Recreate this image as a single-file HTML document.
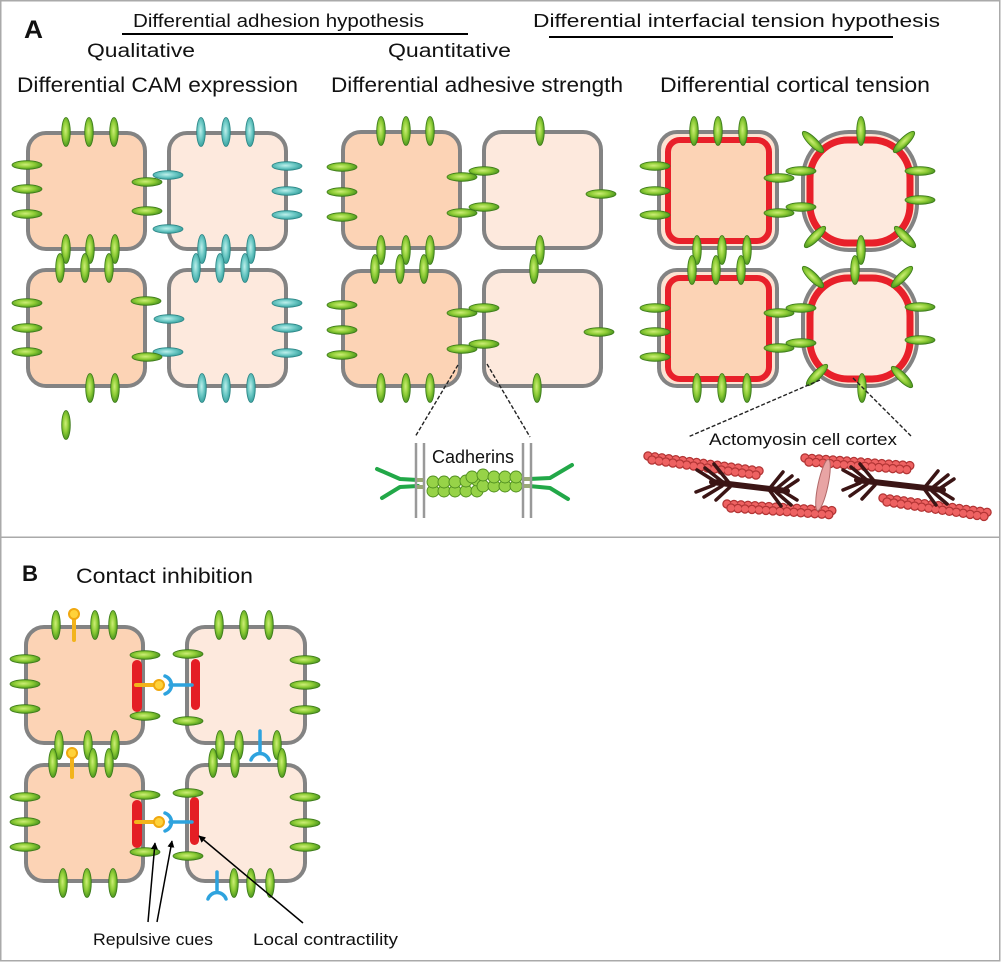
<!DOCTYPE html>
<html><head><meta charset="utf-8"><style>
html,body{margin:0;padding:0;background:#fff;width:1004px;height:963px;overflow:hidden}
svg{display:block}
text{font-family:"Liberation Sans",Arial,sans-serif;fill:#111}
</style></head><body>
<svg width="1004" height="963" viewBox="0 0 1004 963" xmlns="http://www.w3.org/2000/svg">
<defs>
<radialGradient id="gg" cx="0.45" cy="0.45" r="0.6"><stop offset="0" stop-color="#cdee78"/><stop offset="0.5" stop-color="#8fcd36"/><stop offset="1" stop-color="#3f8c1a"/></radialGradient>
<radialGradient id="tg" cx="0.45" cy="0.45" r="0.6"><stop offset="0" stop-color="#bff0ec"/><stop offset="0.5" stop-color="#6ecac6"/><stop offset="1" stop-color="#2f9a98"/></radialGradient>
<ellipse id="gv" cx="0" cy="0" rx="4.3" ry="14.5" fill="url(#gg)" stroke="#3d7a1a" stroke-width="0.8"/>
<ellipse id="gh" cx="0" cy="0" rx="15" ry="4.3" fill="url(#gg)" stroke="#3d7a1a" stroke-width="0.8"/>
<ellipse id="tv" cx="0" cy="0" rx="4.3" ry="14.5" fill="url(#tg)" stroke="#2c8585" stroke-width="0.8"/>
<ellipse id="th" cx="0" cy="0" rx="15" ry="4.3" fill="url(#tg)" stroke="#2c8585" stroke-width="0.8"/>
<marker id="ah" viewBox="0 0 10 10" refX="9" refY="5" markerWidth="7" markerHeight="7" orient="auto" markerUnits="userSpaceOnUse"><path d="M0,0 L10,5 L0,10 z" fill="#000"/></marker>
</defs>

<!-- frames -->
<rect x="0.75" y="0.75" width="999" height="536.5" fill="none" stroke="#aaa" stroke-width="1.5"/>
<rect x="0.75" y="537.25" width="999" height="423.5" fill="none" stroke="#aaa" stroke-width="1.5"/>

<!-- headings -->
<text x="24" y="38" font-size="25" font-weight="bold" textLength="19" lengthAdjust="spacingAndGlyphs">A</text>
<text x="133" y="27" font-size="18" textLength="291" lengthAdjust="spacingAndGlyphs">Differential adhesion hypothesis</text>
<line x1="122" y1="34" x2="468" y2="34" stroke="#000" stroke-width="2"/>
<text x="533" y="27" font-size="18" textLength="407" lengthAdjust="spacingAndGlyphs">Differential interfacial tension hypothesis</text>
<line x1="549" y1="37" x2="893" y2="37" stroke="#000" stroke-width="2"/>
<text x="87" y="57" font-size="19" textLength="108" lengthAdjust="spacingAndGlyphs">Qualitative</text>
<text x="388" y="57" font-size="19" textLength="123" lengthAdjust="spacingAndGlyphs">Quantitative</text>
<text x="17" y="92" font-size="21" textLength="281" lengthAdjust="spacingAndGlyphs">Differential CAM expression</text>
<text x="331" y="92" font-size="21" textLength="292" lengthAdjust="spacingAndGlyphs">Differential adhesive strength</text>
<text x="660" y="92" font-size="21" textLength="270" lengthAdjust="spacingAndGlyphs">Differential cortical tension</text>

<!-- Panel A1 cells -->
<g stroke="#838383" stroke-width="4">
<rect x="28" y="133" width="117" height="116" rx="18" fill="#fcd3b5"/>
<rect x="169" y="133" width="117" height="116" rx="18" fill="#fde9dd"/>
<rect x="28" y="270" width="117" height="116" rx="18" fill="#fcd3b5"/>
<rect x="169" y="270" width="117" height="116" rx="18" fill="#fde9dd"/>
</g>
<use href="#gv" x="66" y="132"/><use href="#gv" x="89" y="132"/><use href="#gv" x="114" y="132"/>
<use href="#gh" x="27" y="165"/><use href="#gh" x="27" y="189"/><use href="#gh" x="27" y="214"/>
<use href="#th" x="168" y="175"/><use href="#th" x="168" y="229"/>
<use href="#gh" x="147" y="182"/><use href="#gh" x="147" y="211"/>
<use href="#tv" x="201" y="132"/><use href="#tv" x="226" y="132"/><use href="#tv" x="250" y="132"/>
<use href="#th" x="287" y="166"/><use href="#th" x="287" y="191"/><use href="#th" x="287" y="215"/>
<use href="#gv" x="66" y="249"/><use href="#gv" x="90" y="249"/><use href="#gv" x="115" y="249"/>
<use href="#tv" x="202" y="249"/><use href="#tv" x="226" y="249"/><use href="#tv" x="251" y="249"/>
<use href="#gv" x="60" y="268"/><use href="#gv" x="85" y="268"/><use href="#gv" x="109" y="268"/>
<use href="#tv" x="196" y="268"/><use href="#tv" x="220" y="268"/><use href="#tv" x="245" y="268"/>
<use href="#gh" x="27" y="303"/><use href="#gh" x="27" y="328"/><use href="#gh" x="27" y="352"/>
<use href="#th" x="169" y="319"/><use href="#th" x="168" y="352"/>
<use href="#gh" x="146" y="301"/><use href="#gh" x="147" y="357"/>
<use href="#th" x="287" y="303"/><use href="#th" x="287" y="328"/><use href="#th" x="287" y="353"/>
<use href="#gv" x="90" y="388"/><use href="#gv" x="115" y="388"/>
<use href="#tv" x="202" y="388"/><use href="#tv" x="226" y="388"/><use href="#tv" x="251" y="388"/>
<use href="#gv" x="66" y="425"/>

<!-- Panel A2 cells -->
<g stroke="#838383" stroke-width="4">
<rect x="343" y="132" width="117" height="116" rx="18" fill="#fcd3b5"/>
<rect x="484" y="132" width="117" height="116" rx="18" fill="#fde9dd"/>
<rect x="343" y="271" width="117" height="115" rx="18" fill="#fcd3b5"/>
<rect x="484" y="271" width="117" height="115" rx="18" fill="#fde9dd"/>
</g>
<use href="#gv" x="381" y="131"/><use href="#gv" x="406" y="131"/><use href="#gv" x="430" y="131"/>
<use href="#gh" x="342" y="167"/><use href="#gh" x="342" y="192"/><use href="#gh" x="342" y="217"/>
<use href="#gh" x="462" y="177"/><use href="#gh" x="462" y="213"/>
<use href="#gh" x="484" y="171"/><use href="#gh" x="484" y="207"/>
<use href="#gv" x="540" y="131"/>
<use href="#gh" x="601" y="194"/>
<use href="#gv" x="381" y="250"/><use href="#gv" x="406" y="250"/><use href="#gv" x="430" y="250"/>
<use href="#gv" x="540" y="250"/>
<use href="#gv" x="375" y="269"/><use href="#gv" x="400" y="269"/><use href="#gv" x="424" y="269"/>
<use href="#gv" x="534" y="269"/>
<use href="#gh" x="342" y="305"/><use href="#gh" x="342" y="330"/><use href="#gh" x="342" y="355"/>
<use href="#gh" x="462" y="313"/><use href="#gh" x="462" y="349"/>
<use href="#gh" x="484" y="308"/><use href="#gh" x="484" y="344"/>
<use href="#gh" x="599" y="332"/>
<use href="#gv" x="381" y="388"/><use href="#gv" x="406" y="388"/><use href="#gv" x="430" y="388"/>
<use href="#gv" x="537" y="388"/>
<g stroke="#222" stroke-width="1.4" stroke-dasharray="4 2">
<line x1="458" y1="365" x2="415" y2="437"/>
<line x1="487" y1="364" x2="530" y2="437"/>
</g>

<!-- Cadherins -->
<text x="432" y="463" font-size="18" textLength="82" lengthAdjust="spacingAndGlyphs">Cadherins</text>
<g stroke="#22a848" stroke-width="4" fill="none" stroke-linecap="round" stroke-linejoin="round">
<polyline points="377,469 400,479 418,480"/>
<polyline points="382,498 400,487 418,486"/>
<polyline points="529,479 550,478 572,465"/>
<polyline points="529,486 550,488 568,499"/>
</g>
<g fill="#97d348" stroke="#4f8f1e" stroke-width="0.9">
<circle cx="433" cy="491" r="6"/><circle cx="444" cy="491" r="6"/><circle cx="455" cy="491" r="6"/><circle cx="466" cy="491" r="6"/><circle cx="477" cy="491" r="6"/>
<circle cx="433" cy="482" r="6"/><circle cx="444" cy="482" r="6"/><circle cx="455" cy="482" r="6"/><circle cx="466" cy="481" r="6"/><circle cx="477" cy="480" r="6"/>
<circle cx="483" cy="486" r="6"/><circle cx="494" cy="486" r="6"/><circle cx="505" cy="486" r="6"/><circle cx="516" cy="486" r="6"/>
<circle cx="472" cy="477" r="6"/><circle cx="483" cy="475" r="6"/><circle cx="494" cy="477" r="6"/><circle cx="505" cy="477" r="6"/><circle cx="516" cy="477" r="6"/>
</g>
<g stroke="#999" stroke-width="2.5">
<line x1="416" y1="443" x2="416" y2="518"/><line x1="424" y1="443" x2="424" y2="518"/>
<line x1="523" y1="443" x2="523" y2="518"/><line x1="531" y1="443" x2="531" y2="518"/>
</g>
<g fill="#9aa878"><rect x="417" y="478" width="6" height="4"/><rect x="417" y="485" width="6" height="4"/><rect x="524" y="477" width="6" height="4"/><rect x="524" y="484" width="6" height="4"/></g>

<!-- Panel A3 cells -->
<g stroke="#838383" stroke-width="4">
<rect x="659" y="132" width="118" height="116" rx="18" fill="#fde3d3"/>
<rect x="803" y="132" width="114" height="118" rx="46" fill="#fde3d3"/>
<rect x="659" y="270" width="118" height="116" rx="18" fill="#fde3d3"/>
<rect x="803" y="270" width="114" height="116" rx="46" fill="#fde3d3"/>
</g>
<g stroke="#e8202a">
<rect x="668" y="140" width="101" height="101" rx="12" stroke-width="6" fill="#fcd3b5"/>
<rect x="810" y="140" width="100" height="103" rx="38" stroke-width="7" fill="#fde9dd"/>
<rect x="668" y="278" width="101" height="101" rx="12" stroke-width="6" fill="#fcd3b5"/>
<rect x="810" y="278" width="100" height="101" rx="38" stroke-width="7" fill="#fde9dd"/>
</g>
<use href="#gv" x="694" y="131"/><use href="#gv" x="718" y="131"/><use href="#gv" x="743" y="131"/>
<use href="#gh" x="655" y="166"/><use href="#gh" x="655" y="191"/><use href="#gh" x="655" y="215"/>
<use href="#gh" x="779" y="178"/><use href="#gh" x="779" y="213"/>
<use href="#gh" x="801" y="171"/><use href="#gh" x="801" y="207"/>
<use href="#gv" x="861" y="131"/>
<use href="#gv" transform="translate(813,142) rotate(-45)"/>
<use href="#gv" transform="translate(904,142) rotate(45)"/>
<use href="#gv" transform="translate(815,237) rotate(45)"/>
<use href="#gv" transform="translate(905,237) rotate(-45)"/>
<use href="#gh" x="920" y="171"/><use href="#gh" x="920" y="200"/>
<use href="#gv" x="861" y="250"/>
<use href="#gv" x="697" y="250"/><use href="#gv" x="722" y="250"/><use href="#gv" x="747" y="250"/>
<use href="#gv" x="692" y="270"/><use href="#gv" x="716" y="270"/><use href="#gv" x="741" y="270"/>
<use href="#gv" x="855" y="270"/>
<use href="#gv" transform="translate(813,277) rotate(-45)"/>
<use href="#gv" transform="translate(902,277) rotate(45)"/>
<use href="#gv" transform="translate(817,375) rotate(45)"/>
<use href="#gv" transform="translate(902,377) rotate(-45)"/>
<use href="#gh" x="655" y="308"/><use href="#gh" x="655" y="332"/><use href="#gh" x="655" y="357"/>
<use href="#gh" x="779" y="313"/><use href="#gh" x="779" y="348"/>
<use href="#gh" x="801" y="308"/><use href="#gh" x="801" y="343"/>
<use href="#gh" x="920" y="307"/><use href="#gh" x="920" y="340"/>
<use href="#gv" x="862" y="388"/>
<use href="#gv" x="697" y="388"/><use href="#gv" x="722" y="388"/><use href="#gv" x="747" y="388"/>
<g stroke="#222" stroke-width="1.4" stroke-dasharray="4 2">
<line x1="820" y1="380" x2="688" y2="437"/>
<line x1="853" y1="378" x2="912" y2="437"/>
</g>

<!-- Actomyosin -->
<text x="709" y="445" font-size="17" textLength="188" lengthAdjust="spacingAndGlyphs">Actomyosin cell cortex</text>
<g fill="none" stroke-linecap="round" stroke-dasharray="0 7">
<g stroke="#b23434" stroke-width="9.5">
<line x1="648" y1="456" x2="760" y2="471"/><line x1="727" y1="504" x2="838" y2="511"/>
<line x1="805" y1="458" x2="915" y2="466"/><line x1="883" y1="498" x2="992" y2="513"/>
</g>
<g stroke="#ee6262" stroke-width="7">
<line x1="648" y1="456" x2="760" y2="471"/><line x1="727" y1="504" x2="838" y2="511"/>
<line x1="805" y1="458" x2="915" y2="466"/><line x1="883" y1="498" x2="992" y2="513"/>
</g>
<g stroke="#b23434" stroke-width="9.5">
<line x1="652" y1="460" x2="756" y2="475"/><line x1="731" y1="508" x2="834" y2="515"/>
<line x1="809" y1="462" x2="911" y2="470"/><line x1="887" y1="502" x2="988" y2="517"/>
</g>
<g stroke="#ee6262" stroke-width="7">
<line x1="652" y1="460" x2="756" y2="475"/><line x1="731" y1="508" x2="834" y2="515"/>
<line x1="809" y1="462" x2="911" y2="470"/><line x1="887" y1="502" x2="988" y2="517"/>
</g>
</g>
<g stroke="#3b1515" stroke-linecap="round" fill="none">
<line x1="712" y1="482" x2="787" y2="491" stroke-width="6"/>
<g stroke-width="3.5">
<line x1="724" y1="483" x2="705" y2="468"/><line x1="716" y1="482" x2="697" y2="470"/><line x1="730" y1="484" x2="714" y2="464"/>
<line x1="722" y1="486" x2="704" y2="497"/><line x1="714" y1="485" x2="696" y2="492"/><line x1="730" y1="487" x2="716" y2="500"/>
<line x1="776" y1="489" x2="792" y2="476"/><line x1="783" y1="490" x2="798" y2="480"/><line x1="770" y1="488" x2="783" y2="472"/>
<line x1="776" y1="492" x2="791" y2="505"/><line x1="784" y1="492" x2="797" y2="500"/><line x1="770" y1="491" x2="781" y2="506"/>
</g>
<line x1="857" y1="480" x2="943" y2="490" stroke-width="6"/>
<g stroke-width="3.5">
<line x1="868" y1="481" x2="851" y2="467"/><line x1="861" y1="480" x2="843" y2="470"/><line x1="875" y1="482" x2="860" y2="464"/>
<line x1="867" y1="484" x2="850" y2="496"/><line x1="860" y1="483" x2="843" y2="490"/><line x1="875" y1="485" x2="862" y2="499"/>
<line x1="932" y1="488" x2="948" y2="475"/><line x1="939" y1="489" x2="954" y2="479"/><line x1="925" y1="487" x2="938" y2="471"/>
<line x1="932" y1="491" x2="947" y2="504"/><line x1="940" y1="491" x2="953" y2="499"/><line x1="925" y1="490" x2="936" y2="505"/>
</g>
</g>
<ellipse cx="823" cy="485" rx="5" ry="26" transform="rotate(12 823 485)" fill="#e8a4a4" stroke="#b06868" stroke-width="1"/>

<!-- Panel B -->
<text x="22" y="581" font-size="22" font-weight="bold" textLength="16" lengthAdjust="spacingAndGlyphs">B</text>
<text x="76" y="583" font-size="21" textLength="177" lengthAdjust="spacingAndGlyphs">Contact inhibition</text>
<g stroke="#838383" stroke-width="4">
<rect x="26" y="627" width="117" height="116" rx="18" fill="#fcd3b5"/>
<rect x="187" y="627" width="118" height="116" rx="18" fill="#fde9dd"/>
<rect x="26" y="765" width="117" height="116" rx="18" fill="#fcd3b5"/>
<rect x="187" y="765" width="118" height="116" rx="18" fill="#fde9dd"/>
</g>
<g fill="#e41e24">
<rect x="132" y="660" width="10" height="52" rx="5"/>
<rect x="191" y="659" width="9" height="51" rx="4.5"/>
<rect x="132" y="800" width="10" height="48" rx="5"/>
<rect x="190" y="797" width="9" height="48" rx="4.5"/>
</g>
<use href="#gv" x="56" y="625"/><use href="#gv" x="95" y="625"/><use href="#gv" x="113" y="625"/>
<use href="#gh" x="25" y="659"/><use href="#gh" x="25" y="684"/><use href="#gh" x="25" y="709"/>
<use href="#gh" x="145" y="655"/><use href="#gh" x="145" y="716"/>
<use href="#gh" x="188" y="654"/><use href="#gh" x="188" y="721"/>
<use href="#gv" x="219" y="625"/><use href="#gv" x="244" y="625"/><use href="#gv" x="269" y="625"/>
<use href="#gh" x="305" y="660"/><use href="#gh" x="305" y="685"/><use href="#gh" x="305" y="710"/>
<use href="#gv" x="59" y="745"/><use href="#gv" x="88" y="745"/><use href="#gv" x="115" y="745"/>
<use href="#gv" x="220" y="745"/><use href="#gv" x="239" y="745"/><use href="#gv" x="277" y="745"/>
<use href="#gv" x="53" y="763"/><use href="#gv" x="93" y="763"/><use href="#gv" x="109" y="763"/>
<use href="#gv" x="213" y="763"/><use href="#gv" x="235" y="763"/><use href="#gv" x="282" y="763"/>
<use href="#gh" x="25" y="797"/><use href="#gh" x="25" y="822"/><use href="#gh" x="25" y="847"/>
<use href="#gh" x="145" y="795"/><use href="#gh" x="145" y="852"/>
<use href="#gh" x="188" y="793"/><use href="#gh" x="188" y="856"/>
<use href="#gh" x="305" y="797"/><use href="#gh" x="305" y="823"/><use href="#gh" x="305" y="847"/>
<use href="#gv" x="63" y="883"/><use href="#gv" x="87" y="883"/><use href="#gv" x="113" y="883"/>
<use href="#gv" x="234" y="883"/><use href="#gv" x="251" y="883"/><use href="#gv" x="270" y="883"/>

<!-- yellow ligands -->
<g stroke="#f2b41c" stroke-width="4" stroke-linecap="round">
<line x1="74" y1="617" x2="74" y2="640"/>
<line x1="72" y1="756" x2="72" y2="777"/>
<line x1="136" y1="685" x2="156" y2="685"/>
<line x1="136" y1="822" x2="156" y2="822"/>
</g>
<g fill="#ffd23a" stroke="#f0a810" stroke-width="2">
<circle cx="74" cy="614" r="5"/><circle cx="72" cy="753" r="5"/>
<circle cx="159" cy="685" r="5"/><circle cx="159" cy="822" r="5"/>
</g>
<!-- blue receptors -->
<g stroke="#2ea3de" stroke-width="3.5" fill="none" stroke-linecap="round">
<path d="M165,676 A9.5 9.5 0 0 1 165,694"/><line x1="170" y1="685" x2="192" y2="685"/>
<path d="M165,813 A9.5 9.5 0 0 1 165,831"/><line x1="170" y1="822" x2="192" y2="822"/>
<path d="M251,760 A9.5 9.5 0 0 1 269,760"/><line x1="260" y1="731" x2="260" y2="751"/>
<path d="M208,899 A9.5 9.5 0 0 1 226,899"/><line x1="217" y1="872" x2="217" y2="890"/>
</g>
<!-- arrows -->
<g stroke="#000" stroke-width="1.5" fill="none">
<line x1="148" y1="922" x2="155" y2="843" marker-end="url(#ah)"/>
<line x1="157" y1="922" x2="172" y2="841" marker-end="url(#ah)"/>
<line x1="303" y1="923" x2="199" y2="836" marker-end="url(#ah)"/>
</g>
<text x="93" y="945" font-size="17" textLength="120" lengthAdjust="spacingAndGlyphs">Repulsive cues</text>
<text x="253" y="945" font-size="17" textLength="145" lengthAdjust="spacingAndGlyphs">Local contractility</text>
</svg>
</body></html>
